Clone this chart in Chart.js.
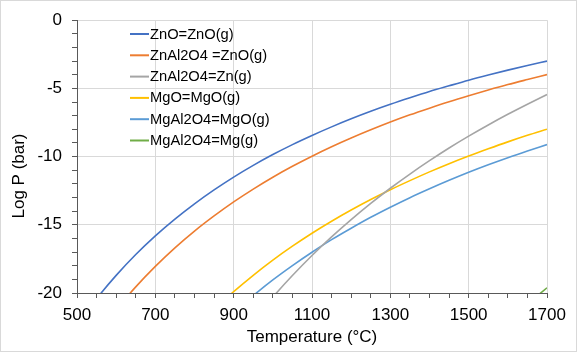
<!DOCTYPE html>
<html>
<head>
<meta charset="utf-8">
<script src="https://cdn.jsdelivr.net/npm/chart.js@4.4.1/dist/chart.umd.min.js"></script>
<style>
  html, body { margin: 0; padding: 0; background: #fff; }
  #wrap { width: 577px; height: 352px; position: relative; }
</style>
</head>
<body>
<div id="wrap"><canvas id="c" width="577" height="352"></canvas></div>
<script>
// Temperature (°C) categories
const temps = [500, 550, 600, 650, 700, 750, 800, 850, 900, 950, 1000, 1050, 1100, 1150, 1200, 1250, 1300, 1350, 1400, 1450, 1500, 1550, 1600, 1650, 1700];

// Log P (bar)
const znoZnoG = [-22.35, -20.42, -18.71, -17.18, -15.81, -14.58, -13.46, -12.44, -11.50, -10.64, -9.85, -9.12, -8.45, -7.82, -7.23, -6.68, -6.17, -5.69, -5.23, -4.81, -4.40, -4.02, -3.66, -3.32, -3.00];
const znal2o4ZnoG = [null, -23.10, -21.23, -19.55, -18.05, -16.69, -15.46, -14.35, -13.32, -12.38, -11.51, -10.71, -9.97, -9.28, -8.64, -8.04, -7.47, -6.94, -6.45, -5.98, -5.54, -5.12, -4.72, -4.35, -3.99];
const znal2o4ZnG = [null, null, null, null, null, null, null, null, null, -22.01, -20.30, -18.72, -17.25, -15.89, -14.62, -13.43, -12.32, -11.28, -10.30, -9.37, -8.50, -7.68, -6.90, -6.16, -5.45];
const mgoMgoG = [null, null, null, null, null, null, null, -21.21, -19.90, -18.70, -17.59, -16.57, -15.62, -14.74, -13.92, -13.15, -12.43, -11.76, -11.12, -10.52, -9.96, -9.43, -8.92, -8.44, -7.99];
const mgal2o4MgoG = [null, null, null, null, null, null, null, null, -21.43, -20.19, -19.04, -17.99, -17.01, -16.09, -15.25, -14.45, -13.71, -13.01, -12.36, -11.74, -11.15, -10.60, -10.08, -9.59, -9.12];
const mgal2o4MgG = [null, null, null, null, null, null, null, null, null, null, null, null, null, null, null, null, null, null, null, null, null, null, null, -20.80, -19.62];

const seriesLabels = ['ZnO=ZnO(g)', 'ZnAl2O4 =ZnO(g)', 'ZnAl2O4=Zn(g)', 'MgO=MgO(g)', 'MgAl2O4=MgO(g)', 'MgAl2O4=Mg(g)'];
const seriesColors = ['#4472C4', '#ED7D31', '#A5A5A5', '#FFC000', '#5B9BD5', '#70AD47'];
const seriesValues = [znoZnoG, znal2o4ZnoG, znal2o4ZnG, mgoMgoG, mgal2o4MgoG, mgal2o4MgG];

// axis ticks
const xMin = 500, xMax = 1700, xMajor = 200, xMinor = 50;
const yMin = -20, yMax = 0, yMajor = 5, yMinor = 1;

const FONT = "'Liberation Sans', Arial, sans-serif";

const datasets = seriesValues.map((vals, i) => ({
  label: seriesLabels[i],
  data: temps.map((t, j) => ({ x: t, y: vals[j] })),
  borderColor: seriesColors[i],
  backgroundColor: seriesColors[i],
  borderWidth: 1.6,
  pointRadius: 0,
  fill: false,
  cubicInterpolationMode: 'monotone',
  spanGaps: false
}));

const bgBorder = {
  id: 'bgBorder',
  beforeDraw(chart) {
    const ctx = chart.ctx;
    ctx.save();
    ctx.fillStyle = '#fff';
    ctx.fillRect(0, 0, chart.width, chart.height);
    ctx.strokeStyle = '#D9D9D9';
    ctx.lineWidth = 1;
    ctx.strokeRect(0.5, 0.5, chart.width - 1, chart.height - 1);
    ctx.restore();
  }
};

const yTitle = {
  id: 'yTitle',
  afterDraw(chart) {
    const ctx = chart.ctx;
    ctx.save();
    ctx.translate(19, 176);
    ctx.rotate(-Math.PI / 2);
    ctx.font = '17px ' + FONT;
    ctx.fillStyle = '#000';
    ctx.textAlign = 'center';
    ctx.textBaseline = 'middle';
    ctx.fillText('Log P (bar)', 0, 0);
    ctx.restore();
  }
};

const insideLegend = {
  id: 'insideLegend',
  afterDraw(chart) {
    const ctx = chart.ctx;
    ctx.save();
    ctx.font = '14.7px ' + FONT;
    ctx.textBaseline = 'middle';
    ctx.textAlign = 'left';
    chart.data.datasets.forEach((ds, i) => {
      const y = 34 + i * 21.3;
      ctx.strokeStyle = ds.borderColor;
      ctx.lineWidth = 2;
      ctx.beginPath();
      ctx.moveTo(130, y);
      ctx.lineTo(149, y);
      ctx.stroke();
      ctx.fillStyle = '#000';
      ctx.fillText(ds.label, 150, y + 0.5);
    });
    ctx.restore();
  }
};

new Chart(document.getElementById('c'), {
  type: 'line',
  data: { datasets },
  options: {
    responsive: false,
    animation: false,
    layout: { padding: { left: 0, right: 30, top: 15, bottom: 0 } },
    plugins: { legend: { display: false }, tooltip: { enabled: false } },
    scales: {
      x: {
        type: 'linear',
        min: xMin, max: xMax,
        afterFit(scale) { scale.height = 59; },
        ticks: {
          stepSize: xMinor,
          autoSkip: false,
          maxRotation: 0,
          padding: 7,
          color: '#000',
          font: { family: FONT, size: 17 },
          callback: (v) => ((v - xMin) % xMajor === 0 ? String(v) : '')
        },
        grid: {
          color: (c) => (c.tick && (c.tick.value - xMin) % xMajor === 0 ? '#D9D9D9' : 'rgba(0,0,0,0)'),
          tickColor: '#595959',
          tickLength: 5,
          lineWidth: 1
        },
        border: { color: '#595959', width: 1 },
        title: {
          display: true,
          text: 'Temperature (°C)',
          color: '#000',
          font: { family: FONT, size: 17 },
          padding: { top: 0, bottom: 4 }
        }
      },
      y: {
        type: 'linear',
        min: yMin, max: yMax,
        afterFit(scale) { scale.width = 77; },
        ticks: {
          stepSize: yMinor,
          autoSkip: false,
          padding: 10,
          color: '#000',
          font: { family: FONT, size: 17 },
          callback: (v) => (v % yMajor === 0 ? String(v) : '')
        },
        grid: {
          color: (c) => (c.tick && c.tick.value % yMajor === 0 ? '#D9D9D9' : 'rgba(0,0,0,0)'),
          tickColor: '#595959',
          tickLength: 5,
          lineWidth: 1
        },
        border: { color: '#595959', width: 1 }
      }
    }
  },
  plugins: [bgBorder, yTitle, insideLegend]
});
</script>
</body>
</html>
